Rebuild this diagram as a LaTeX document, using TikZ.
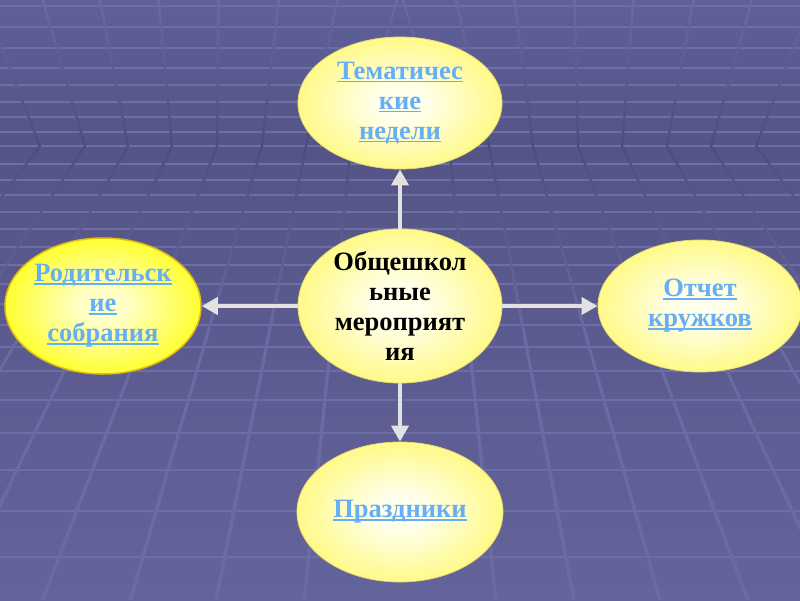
\documentclass[tikz,border=0pt]{standalone}
\usepackage{fontspec}
\setmainfont{Liberation Serif}
\usetikzlibrary{shapes.geometric,arrows.meta}
\definecolor{bgtop}{HTML}{60609A}
\definecolor{bghor}{HTML}{545486}
\definecolor{bgbot}{HTML}{64649C}
\definecolor{hl}{HTML}{6E6EA6}
\definecolor{dl}{HTML}{6B6BA4}
\definecolor{dd}{HTML}{4C4C7C}
\definecolor{dm}{HTML}{5A5A8E}
\definecolor{yc}{HTML}{FFFFEC}
\definecolor{ye}{HTML}{FFFA88}
\definecolor{ysc}{HTML}{FFFFC8}
\definecolor{yse}{HTML}{FFFF30}
\definecolor{yrim}{HTML}{E6DC70}
\definecolor{gold}{HTML}{E2BE10}
\definecolor{lbl}{HTML}{66AEF6}
\definecolor{arr}{HTML}{E2E2E2}
\pgfdeclareverticalshading{bgsh}{100bp}{color(0bp)=(bgbot); color(25bp)=(bgbot); color(62.8bp)=(bghor); color(75bp)=(bgtop); color(100bp)=(bgtop)}
\pgfdeclareverticalshading{lowsh}{100bp}{color(0bp)=(dl); color(54bp)=(dl); color(66bp)=(dm); color(75bp)=(dd); color(100bp)=(dd)}
\pgfdeclareradialshading{paleglow}{\pgfpoint{0bp}{0bp}}{color(0bp)=(yc); color(6bp)=(yc); color(25bp)=(ye); color(50bp)=(ye)}
\pgfdeclareradialshading{brightglow}{\pgfpoint{0bp}{0bp}}{color(0bp)=(ysc); color(6bp)=(ysc); color(25bp)=(yse); color(50bp)=(yse)}
\newcommand\myul[1]{\setbox0\hbox{#1}\rlap{\color{lbl}\rule[-3pt]{\wd0}{1.5pt}}\box0}
\tikzset{
  bub/.style={ellipse, inner sep=0pt, align=center,
    font=\fontsize{26.5}{30}\selectfont\bfseries, text=lbl},
  palebub/.style={bub, shading=paleglow, draw=yrim, line width=0.8pt},
  brightbub/.style={bub, shading=brightglow, draw=gold, line width=1.5pt},
  conn/.style={draw=arr, line width=4.5pt, -{Triangle[length=16pt,width=17pt]}}
}
\begin{document}
\begin{tikzpicture}[x=1pt,y=-1pt]
\useasboundingbox (0,0) rectangle (800,600);
\begin{scope}
\clip (0,0) rectangle (800,600);
\shade[shading=bgsh] (0,0) rectangle (800,600);
\foreach \y in {6,27,48,68,85,102,117,132,146,164,180,195,212,229,247,265,284,304,325,347,371,400,433,470,511,557}
  \fill[hl] (0,{\y-0.9}) rectangle (800,{\y+0.9});
% upper lines (left)
\shade[top color=dl, bottom color=dd]
  \foreach \v in {40,85,128,172,217,262,306,351} {
    ({\v-1.2},146) -- ({\v+1.2},146) -- ({\v-(212-\v)/3+1.3},0) -- ({\v-(212-\v)/3-1.3},0) -- cycle };
% upper lines (right)
\shade[top color=dl, bottom color=dd]
  \foreach \v in {449,489,533,578,622,667,711,756} {
    ({\v-1.2},146) -- ({\v+1.2},146) -- ({\v+(\v-588)/3+1.3},0) -- ({\v+(\v-588)/3-1.3},0) -- cycle };
% lower lines (left)
\shade[shading=lowsh]
  \foreach \v in {40,85,128,172,217,262,306,351} {
    ({\v-1.2},146) -- ({\v+1.2},146) -- ({\v-(400-\v)*0.954+2},600) -- ({\v-(400-\v)*0.954-2},600) -- cycle };
% lower lines (right)
\shade[shading=lowsh]
  \foreach \v in {449,489,533,578,622,667,711,756} {
    ({\v-1.2},146) -- ({\v+1.2},146) -- ({\v+(\v-400)*0.954+2},600) -- ({\v+(\v-400)*0.954-2},600) -- cycle };
\end{scope}

\node[palebub, minimum width=204pt, minimum height=132pt] (t) at (400,103)
  {\myul{Тематичес}\\\myul{кие}\\\myul{недели}};
\node[palebub, minimum width=204pt, minimum height=138pt, text=black] (c) at (400,306)
  {Общешкол\\ьные\\мероприят\\ия};
\node[brightbub, minimum width=196pt, minimum height=136pt] (l) at (103,306)
  {\myul{Родительск}\\\myul{ие}\\\myul{собрания}};
\node[palebub, minimum width=204pt, minimum height=132pt] (r) at (700,306)
  {\myul{Отчет}\\\myul{кружков}};
\node[palebub, minimum width=206pt, minimum height=140pt] (b) at (400,512)
  {\myul{Праздники}};

\draw[conn] (c.north) -- (t.south);
\draw[conn] (c.west) -- (l.east);
\draw[conn] (c.east) -- (r.west);
\draw[conn] (c.south) -- (b.north);
\end{tikzpicture}
\end{document}
